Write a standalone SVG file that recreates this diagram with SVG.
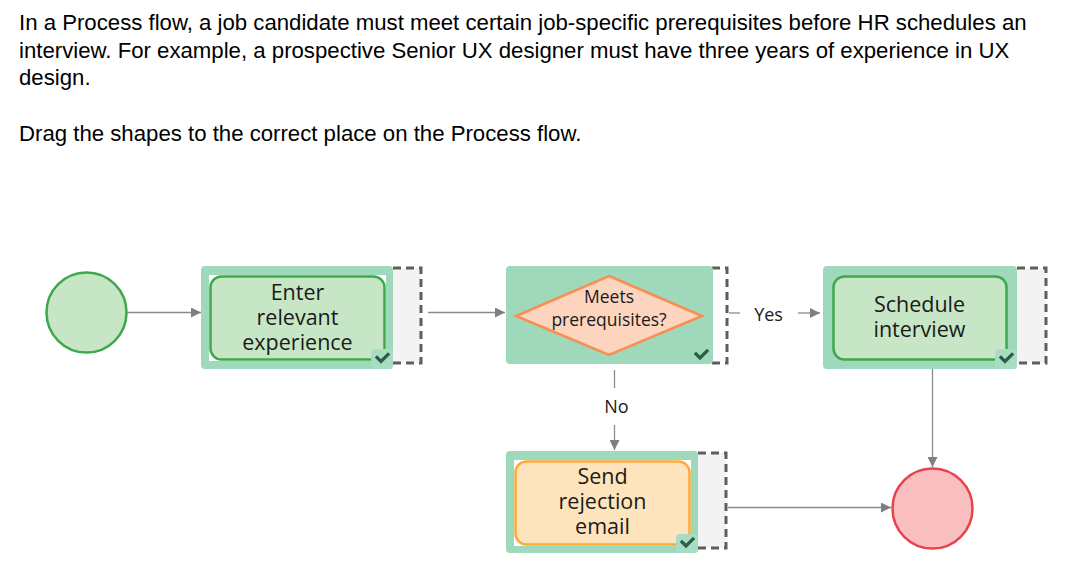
<svg xmlns="http://www.w3.org/2000/svg" width="1075" height="578" viewBox="0 0 1075 578">
<style>
.intro{font-family:"Liberation Sans",Arial,sans-serif;font-size:22.2px;fill:#000}
.lbl{font-family:"Open Sans","Noto Sans",sans-serif;font-size:21.5px;fill:#1a1a1a;text-anchor:middle}
.dlbl{font-family:"Open Sans","Noto Sans",sans-serif;font-size:17.5px;fill:#1a1a1a;text-anchor:middle}
.elbl{font-family:"Open Sans","Noto Sans",sans-serif;font-size:18px;fill:#1a1a1a;text-anchor:middle}
.card{fill:#9fd8ba}
.bracket{fill:#f3f3f3}
.dash{fill:none;stroke:#5e5e5e;stroke-width:3;stroke-dasharray:8 5}
.badge{fill:#a9ddc3}
.check{fill:none;stroke:#2b5d4a;stroke-width:3.2;stroke-linecap:square}
.green{fill:#c6e6c5;stroke:#3fa84a;stroke-width:2.5}
.orange{fill:#fde4bc;stroke:#f9ac3b;stroke-width:2.5}
.conn{fill:none;stroke:#8a8a8a;stroke-width:1.3}
</style>
<defs>
<marker id="arr" viewBox="0 0 10 10" refX="10" refY="5" markerWidth="11" markerHeight="10" markerUnits="userSpaceOnUse" orient="auto">
<path d="M0,0 L10,5 L0,10 Z" fill="#7f7f7f"/>
</marker>
</defs>
<rect width="1075" height="578" fill="#fff"/>
<g id="intro">
<text class="intro" x="19" y="30">In a Process flow, a job candidate must meet certain job-specific prerequisites before HR schedules an</text>
<text class="intro" x="19" y="57.5">interview. For example, a prospective Senior UX designer must have three years of experience in UX</text>
<text class="intro" x="19" y="85">design.</text>
<text class="intro" x="19" y="141">Drag the shapes to the correct place on the Process flow.</text>
</g>
<g id="connectors">
<line class="conn" x1="127" y1="312.5" x2="201" y2="312.5" marker-end="url(#arr)"/>
<line class="conn" x1="428" y1="312.5" x2="505" y2="312.5" marker-end="url(#arr)"/>
<line class="conn" x1="729" y1="313" x2="740" y2="313"/>
<text class="elbl" x="768.5" y="320.5">Yes</text>
<line class="conn" x1="798" y1="313" x2="820" y2="313" marker-end="url(#arr)"/>
<line class="conn" x1="614.5" y1="370" x2="614.5" y2="388"/>
<text class="elbl" x="616.5" y="412.5">No</text>
<line class="conn" x1="614.5" y1="425" x2="614.5" y2="450" marker-end="url(#arr)"/>
<line class="conn" x1="932.5" y1="369" x2="932.5" y2="467" marker-end="url(#arr)"/>
<line class="conn" x1="728" y1="507.5" x2="891" y2="507.5" marker-end="url(#arr)"/>
</g>
<g id="start">
<circle cx="86.5" cy="312.5" r="40" fill="#c6e6c5" stroke="#3fa84a" stroke-width="2.5"/>
</g>
<g id="node-enter">
<rect class="bracket" x="393" y="268" width="28" height="95"/>
<path class="dash" d="M393,268 H421 V363 H393"/>
<rect class="card" x="201" y="266" width="192" height="103" rx="4"/>
<rect x="209" y="275" width="177" height="86" fill="#fff"/>
<rect class="green" x="210.5" y="276.5" width="174" height="83" rx="11"/>
<rect class="badge" x="371" y="349" width="22" height="20" rx="4"/>
<path class="check" d="M377,357.5 L381,361.5 L388,354.5"/>
<text class="lbl" x="297.5" y="300">Enter</text>
<text class="lbl" x="297.5" y="325">relevant</text>
<text class="lbl" x="297.5" y="350">experience</text>
</g>
<g id="node-decision">
<path class="dash" d="M712,268 H727 V363 H712"/>
<rect class="card" x="506" y="266" width="207" height="98" rx="4"/>
<polygon points="609,276 702,316 609,355 516,316" fill="#fdd5be" stroke="#f98d52" stroke-width="2.5"/>
<path class="check" d="M696,354 L700,358 L707,351"/>
<text class="dlbl" x="609" y="303">Meets</text>
<text class="dlbl" x="609" y="326">prerequisites?</text>
</g>
<g id="node-schedule">
<rect class="bracket" x="1017" y="268" width="29" height="95"/>
<path class="dash" d="M1017,268 H1046 V363 H1017"/>
<rect class="card" x="823" y="266" width="194" height="103" rx="4"/>
<rect class="green" x="833.5" y="276.5" width="173" height="83" rx="11"/>
<rect class="badge" x="995" y="349" width="22" height="20" rx="4"/>
<path class="check" d="M1001,357.5 L1005,361.5 L1012,354.5"/>
<text class="lbl" x="919.5" y="312">Schedule</text>
<text class="lbl" x="919.5" y="337">interview</text>
</g>
<g id="node-reject">
<rect class="bracket" x="698" y="453" width="28" height="95"/>
<path class="dash" d="M698,453 H726 V548 H698"/>
<rect class="card" x="506" y="451" width="192" height="102" rx="4"/>
<rect x="514" y="460" width="177" height="86" fill="#fff"/>
<rect class="orange" x="515.5" y="461.5" width="174" height="83" rx="11"/>
<rect class="badge" x="676" y="534" width="22" height="19" rx="4"/>
<path class="check" d="M682,542 L686,546 L693,539"/>
<text class="lbl" x="602.5" y="484">Send</text>
<text class="lbl" x="602.5" y="509">rejection</text>
<text class="lbl" x="602.5" y="534">email</text>
</g>
<g id="end">
<circle cx="932.5" cy="508.5" r="40" fill="#f8bec0" stroke="#e8434a" stroke-width="2.5"/>
</g>
</svg>
